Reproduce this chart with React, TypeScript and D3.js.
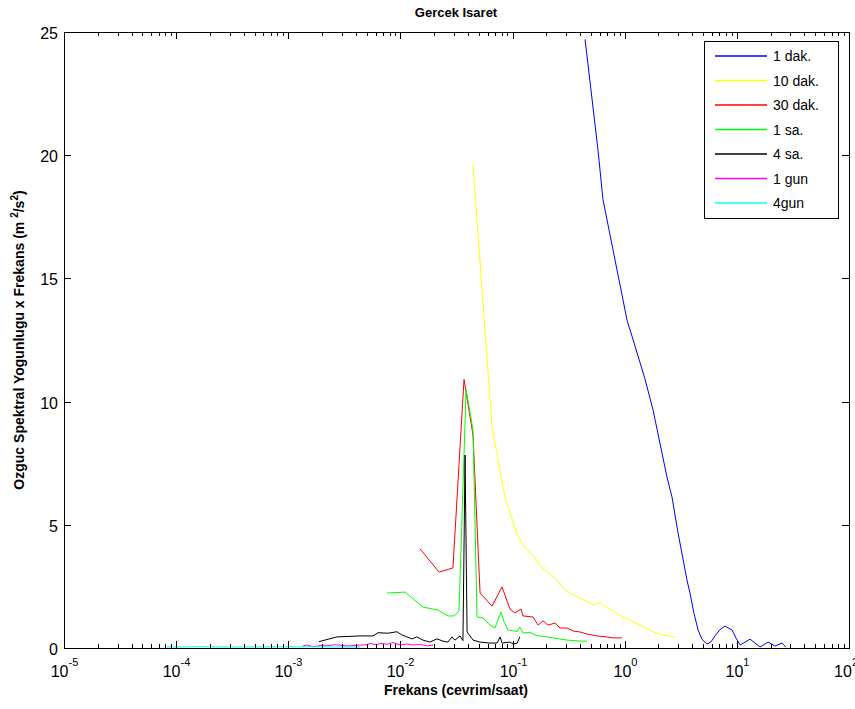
import React from "react";
import * as d3 from "d3";

// frequencies (cevrim/saat) and spectral density x frequency values
const dak1F = [0.443, 0.578, 0.64, 0.787, 1.05, 1.19, 1.52, 1.79, 2.38, 2.64, 2.99, 3.59, 3.82, 4.15, 4.51, 4.89, 5.42, 5.88, 6.39, 7.08, 7.84, 9.06, 9.84, 10.7, 13.1, 16.1, 19.0, 21.9, 25.3, 27.4];
const dak1V = [24.7, 20.2, 18.2, 16.15, 13.3, 12.5, 10.9, 9.66, 6.94, 6.13, 4.67, 2.76, 2.23, 1.4, 0.73, 0.35, 0.16, 0.25, 0.49, 0.75, 0.89, 0.73, 0.4, 0.12, 0.36, 0.04, 0.24, 0.08, 0.2, 0.03];

const dak10F = [0.0444, 0.0545, 0.0656, 0.0855, 0.11, 0.129, 0.152, 0.183, 0.239, 0.294, 0.346, 0.428, 0.522, 0.604, 0.697, 0.771, 0.908, 1.11, 1.37, 1.79, 2.19, 2.81];
const dak10V = [19.6, 14.0, 8.97, 6.13, 4.59, 4.06, 3.77, 3.25, 2.84, 2.35, 2.15, 1.95, 1.75, 1.83, 1.62, 1.54, 1.3, 1.14, 0.93, 0.65, 0.53, 0.45];

const dak30F = [0.01496, 0.0221, 0.0294, 0.0369, 0.0444, 0.0513, 0.0656, 0.0805, 0.0949, 0.105, 0.119, 0.124, 0.152, 0.169, 0.187, 0.207, 0.239, 0.265, 0.306, 0.346, 0.399, 0.461, 0.566, 0.695, 0.787, 0.946];
const dak30V = [4.02, 3.08, 3.25, 10.9, 8.64, 2.23, 1.7, 2.48, 1.58, 1.42, 1.58, 1.3, 1.26, 0.93, 1.1, 0.93, 1.01, 0.81, 0.81, 0.69, 0.65, 0.57, 0.49, 0.45, 0.41, 0.41];

const sa1F = [0.00759, 0.011, 0.0159, 0.0216, 0.0266, 0.0301, 0.0333, 0.0385, 0.0444, 0.0482, 0.0545, 0.0629, 0.0697, 0.0741, 0.0789, 0.0839, 0.0912, 0.11, 0.116, 0.124, 0.143, 0.165, 0.203, 0.23, 0.306, 0.399, 0.461];
const sa1V = [2.23, 2.27, 1.66, 1.54, 1.3, 1.3, 1.5, 10.5, 8.85, 1.26, 1.22, 0.93, 0.81, 1.14, 1.46, 1.06, 0.73, 0.67, 0.85, 0.61, 0.63, 0.5, 0.45, 0.41, 0.32, 0.28, 0.28];

const sa4F = [0.00188, 0.00272, 0.00436, 0.00569, 0.00631, 0.00774, 0.00931, 0.0103, 0.0114, 0.0127, 0.014, 0.0159, 0.0183, 0.0212, 0.0239, 0.0265, 0.0288, 0.0306, 0.034, 0.0361, 0.0377, 0.0393, 0.0444, 0.0513, 0.0629, 0.0728, 0.0774, 0.0805, 0.0949, 0.101, 0.11, 0.116];
const sa4V = [0.26, 0.45, 0.49, 0.49, 0.62, 0.6, 0.66, 0.53, 0.45, 0.37, 0.45, 0.32, 0.24, 0.37, 0.28, 0.24, 0.45, 0.32, 0.49, 0.3, 7.83, 0.65, 0.32, 0.24, 0.2, 0.2, 0.45, 0.2, 0.24, 0.16, 0.2, 0.45];

const gun1F = [0.00135, 0.00147, 0.00166, 0.00192, 0.00221, 0.00256, 0.00289, 0.00334, 0.0041, 0.00504, 0.00536, 0.00618, 0.00658, 0.0076, 0.00859, 0.00993, 0.0115, 0.013, 0.015, 0.0173, 0.0196];
const gun1V = [0.08, 0.12, 0.05, 0.1, 0.09, 0.13, 0.12, 0.08, 0.11, 0.13, 0.19, 0.12, 0.19, 0.15, 0.22, 0.12, 0.16, 0.12, 0.15, 0.08, 0.12];

const gun4F = [0.0000796, 0.000163, 0.000372, 0.000845, 0.00156, 0.00262, 0.0044];
const gun4V = [0.04, 0.05, 0.04, 0.05, 0.05, 0.04, 0.04];

const legendLabels = ["1 dak.", "10 dak.", "30 dak.", "1 sa.", "4 sa.", "1 gun", "4gun"];
const colors = ["#0000ff", "#ffff00", "#ff0000", "#00ff00", "#000000", "#ff00ff", "#00ffff"];
const yTicks = [0, 5, 10, 15, 20, 25];
const xExps = [-5, -4, -3, -2, -1, 0, 1, 2];

const series = [
  [dak1F, dak1V],
  [dak10F, dak10V],
  [dak30F, dak30V],
  [sa1F, sa1V],
  [sa4F, sa4V],
  [gun1F, gun1V],
  [gun4F, gun4V],
];

const W = 855;
const H = 709;
const left = 64, right = 849, top = 32, bottom = 648;
const font = "'Liberation Sans', Arial, Helvetica, sans-serif";

export default function App() {
  const x = d3.scaleLog().domain([1e-5, 1e2]).range([left, right]);
  const y = d3.scaleLinear().domain([0, 25]).range([bottom, top]);

  const line = d3
    .line<[number, number]>()
    .x((d) => x(d[0]))
    .y((d) => y(d[1]));

  const minor: number[] = [];
  for (let e = -5; e < 2; e++) {
    for (let k = 2; k <= 9; k++) minor.push(k * Math.pow(10, e));
  }

  const legX = 704, legY = 41, legW = 134, legH = 177;

  return (
    <svg width={W} height={H} style={{ position: "absolute", left: 0, top: 0, background: "#fff" }} fontFamily={font}>
      <rect x={0} y={0} width={W} height={H} fill="#fff" />
      <text x={456} y={17} textAnchor="middle" fontSize={13} fontWeight="bold">Gercek Isaret</text>

      <defs>
        <clipPath id="plotclip">
          <rect x={left} y={top} width={right - left} height={bottom - top} />
        </clipPath>
      </defs>

      {/* data lines */}
      <g clipPath="url(#plotclip)">
        {series.map(([f, v], i) => (
          <path
            key={i}
            d={line(f.map((fi, j) => [fi, v[j]] as [number, number])) || ""}
            fill="none"
            stroke={colors[i]}
            strokeWidth={1}
          />
        ))}
      </g>

      {/* axes box */}
      <rect x={left + 0.5} y={top + 0.5} width={right - left} height={bottom - top} fill="none" stroke="#000" strokeWidth={1} />

      {/* x ticks */}
      {xExps.map((e) => {
        const px = Math.round(x(Math.pow(10, e))) + 0.5;
        const last = e === 2;
        return (
          <g key={"xt" + e}>
            <line x1={px} x2={px} y1={bottom} y2={bottom - 7} stroke="#000" />
            <line x1={px} x2={px} y1={top} y2={top + 7} stroke="#000" />
            <text x={last ? 858 : px} y={677} textAnchor={last ? "end" : "middle"} fontSize={16}>
              10<tspan dy={-11} fontSize={11}>{e}</tspan>
            </text>
          </g>
        );
      })}
      {minor.map((m, i) => {
        const px = Math.round(x(m)) + 0.5;
        return (
          <g key={"xm" + i}>
            <line x1={px} x2={px} y1={bottom} y2={bottom - 4} stroke="#000" />
            <line x1={px} x2={px} y1={top} y2={top + 4} stroke="#000" />
          </g>
        );
      })}

      {/* y ticks */}
      {yTicks.map((t) => {
        const py = Math.round(y(t)) + 0.5;
        return (
          <g key={"yt" + t}>
            <line x1={left} x2={left + 7} y1={py} y2={py} stroke="#000" />
            <line x1={right} x2={right - 7} y1={py} y2={py} stroke="#000" />
            <text x={left - 6} y={py + 6} textAnchor="end" fontSize={16}>{t}</text>
          </g>
        );
      })}

      <text x={456} y={695} textAnchor="middle" fontSize={14} fontWeight="bold">Frekans (cevrim/saat)</text>
      <text transform="translate(24,340) rotate(-90)" textAnchor="middle" fontSize={14} fontWeight="bold">
        Ozguc Spektral Yogunlugu x Frekans (m <tspan dy={-6} fontSize={10}>2</tspan>
        <tspan dy={6}>/s</tspan>
        <tspan dy={-6} fontSize={10}>2</tspan>
        <tspan dy={6}>)</tspan>
      </text>

      {/* legend */}
      <rect x={legX + 0.5} y={legY + 0.5} width={legW} height={legH} fill="#fff" stroke="#000" strokeWidth={1} />
      {legendLabels.map((lab, i) => {
        const ly = 56 + i * 24.5;
        return (
          <g key={lab}>
            <line x1={715} x2={767} y1={ly} y2={ly} stroke={colors[i]} strokeWidth={1.3} />
            <text x={773} y={ly + 5} fontSize={14}>{lab}</text>
          </g>
        );
      })}
    </svg>
  );
}
